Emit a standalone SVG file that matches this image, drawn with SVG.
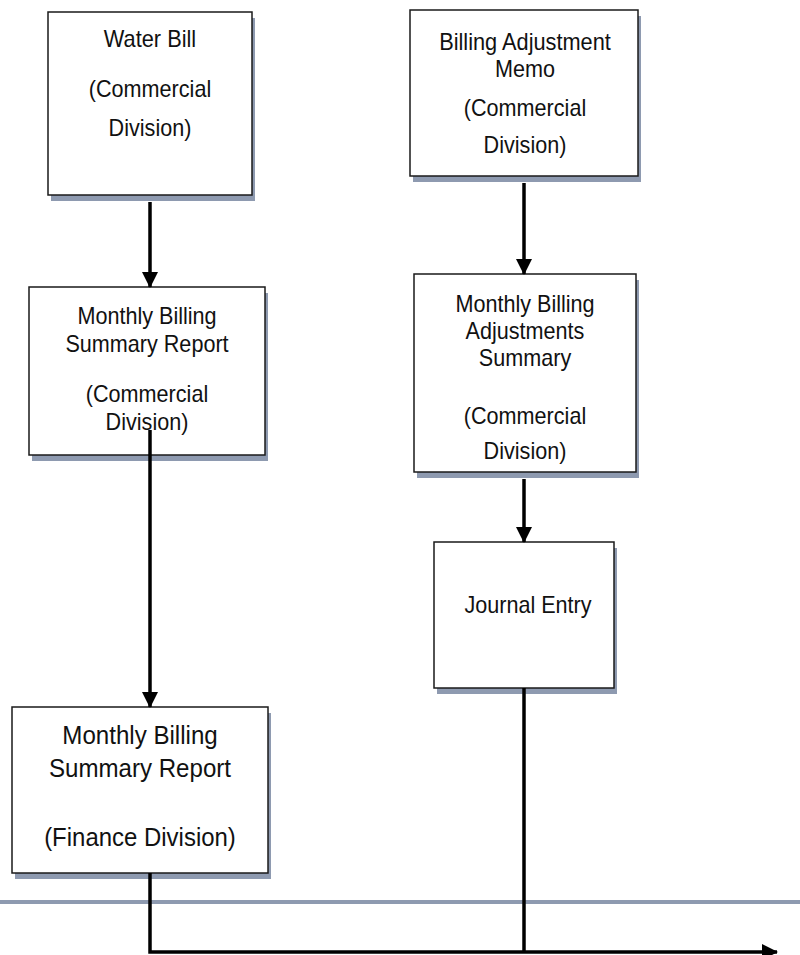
<svg xmlns="http://www.w3.org/2000/svg" width="800" height="955" viewBox="0 0 800 955">
  <defs>
    <style>
      .box { fill: #ffffff; stroke: #1a1a1a; stroke-width: 1.5; }
      .shadow { fill: #8e9ab0; stroke: none; }
      .lbl { font-family: "Liberation Sans", Arial, sans-serif; font-size: 24px; fill: #111111; text-anchor: middle; }
      .big { font-size: 26.7px; }
      .flow { fill: none; stroke: #000000; stroke-width: 3.5; }
      .rule { stroke: #8e9ab0; stroke-width: 4; }
    </style>
    <marker id="head" viewBox="0 0 16 16" refX="15" refY="8" markerWidth="16" markerHeight="16" markerUnits="userSpaceOnUse" orient="auto">
      <path d="M0,0 L16,8 L0,16 Z" fill="#000000"/>
    </marker>
  </defs>

  <rect width="800" height="955" fill="#ffffff"/>

  <!-- horizontal divider rule -->
  <line class="rule" x1="0" y1="902" x2="800" y2="902"/>

  <!-- Water Bill -->
  <g id="water-bill">
    <rect class="shadow" x="51" y="18" width="204" height="183"/>
    <rect class="box" x="48" y="12" width="204" height="183"/>
    <text class="lbl" x="150" y="47" textLength="92.4" lengthAdjust="spacingAndGlyphs">Water Bill</text>
    <text class="lbl" x="150" y="97" textLength="122.4" lengthAdjust="spacingAndGlyphs">(Commercial</text>
    <text class="lbl" x="150" y="136" textLength="82.8" lengthAdjust="spacingAndGlyphs">Division)</text>
  </g>

  <!-- Billing Adjustment Memo -->
  <g id="billing-adjustment-memo">
    <rect class="shadow" x="413" y="16" width="228" height="166"/>
    <rect class="box" x="410" y="10" width="228" height="166"/>
    <text class="lbl" x="525" y="50" textLength="171.7" lengthAdjust="spacingAndGlyphs">Billing Adjustment</text>
    <text class="lbl" x="525" y="77" textLength="60" lengthAdjust="spacingAndGlyphs">Memo</text>
    <text class="lbl" x="525" y="116" textLength="122.4" lengthAdjust="spacingAndGlyphs">(Commercial</text>
    <text class="lbl" x="525" y="153" textLength="82.8" lengthAdjust="spacingAndGlyphs">Division)</text>
  </g>

  <!-- Monthly Billing Summary Report (Commercial) -->
  <g id="summary-commercial">
    <rect class="shadow" x="32" y="293" width="236" height="168"/>
    <rect class="box" x="29" y="287" width="236" height="168"/>
    <text class="lbl" x="147" y="324" textLength="139.2" lengthAdjust="spacingAndGlyphs">Monthly Billing</text>
    <text class="lbl" x="147" y="352" textLength="163.2" lengthAdjust="spacingAndGlyphs">Summary Report</text>
    <text class="lbl" x="147" y="402" textLength="122.4" lengthAdjust="spacingAndGlyphs">(Commercial</text>
    <text class="lbl" x="147" y="430" textLength="82.8" lengthAdjust="spacingAndGlyphs">Division)</text>
  </g>

  <!-- Monthly Billing Adjustments Summary -->
  <g id="adjustments-summary">
    <rect class="shadow" x="417" y="280" width="222" height="198"/>
    <rect class="box" x="414" y="274" width="222" height="198"/>
    <text class="lbl" x="525" y="312" textLength="139.2" lengthAdjust="spacingAndGlyphs">Monthly Billing</text>
    <text class="lbl" x="525" y="339" textLength="118.8" lengthAdjust="spacingAndGlyphs">Adjustments</text>
    <text class="lbl" x="525" y="366" textLength="92.4" lengthAdjust="spacingAndGlyphs">Summary</text>
    <text class="lbl" x="525" y="424" textLength="122.4" lengthAdjust="spacingAndGlyphs">(Commercial</text>
    <text class="lbl" x="525" y="459" textLength="82.8" lengthAdjust="spacingAndGlyphs">Division)</text>
  </g>

  <!-- Journal Entry -->
  <g id="journal-entry">
    <rect class="shadow" x="437" y="548" width="180" height="146"/>
    <rect class="box" x="434" y="542" width="180" height="146"/>
    <text class="lbl" x="528" y="613" textLength="127.2" lengthAdjust="spacingAndGlyphs">Journal Entry</text>
  </g>

  <!-- Monthly Billing Summary Report (Finance) -->
  <g id="summary-finance">
    <rect class="shadow" x="15" y="713" width="256" height="166"/>
    <rect class="box" x="12" y="707" width="256" height="166"/>
    <text class="lbl big" x="140" y="744" textLength="155.4" lengthAdjust="spacingAndGlyphs">Monthly Billing</text>
    <text class="lbl big" x="140" y="777" textLength="182.1" lengthAdjust="spacingAndGlyphs">Summary Report</text>
    <text class="lbl big" x="140" y="846" textLength="191.7" lengthAdjust="spacingAndGlyphs">(Finance Division)</text>
  </g>

  <!-- connectors -->
  <g id="connectors">
    <line class="flow" x1="150" y1="202" x2="150" y2="287" marker-end="url(#head)"/>
    <line class="flow" x1="524" y1="183" x2="524" y2="274" marker-end="url(#head)"/>
    <line class="flow" x1="150" y1="430" x2="150" y2="707" marker-end="url(#head)"/>
    <line class="flow" x1="524" y1="479" x2="524" y2="542" marker-end="url(#head)"/>
    <line class="flow" x1="524" y1="688" x2="524" y2="952"/>
    <polyline class="flow" points="150,873 150,952 777,952" marker-end="url(#head)"/>
  </g>
</svg>
